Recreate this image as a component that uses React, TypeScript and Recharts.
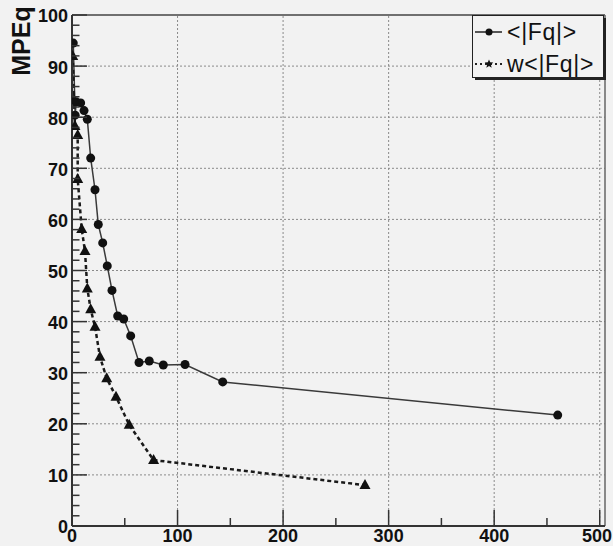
import React from 'react';
import { LineChart, Line, XAxis, YAxis, ReferenceLine, Legend } from 'recharts';

// ---- data ----
const fqX = [1.2, 3, 4, 8.2, 11.4, 14.5, 17.7, 21.8, 24.9, 29.1, 33.4, 37.9, 43.3, 49.0, 55.6, 63.5, 73.2, 86.5, 107.1, 142.8, 460.2];
const fqY = [94.5, 80.4, 83.0, 82.8, 81.3, 79.6, 72.0, 65.8, 59.0, 55.4, 50.9, 46.1, 41.1, 40.5, 37.2, 32.0, 32.3, 31.5, 31.6, 28.2, 21.7];
const wfqX = [0.7, 1.9, 2.8, 5.4, 5.4, 9.2, 12.3, 14.5, 17.7, 21.8, 26.5, 32.9, 41.7, 54.2, 77.3, 277.6];
const wfqY = [92.0, 83.4, 78.3, 76.5, 67.9, 58.1, 53.8, 46.5, 42.4, 39.0, 33.1, 28.9, 25.3, 19.8, 12.9, 8.0];
const seriesNames = ['<|Fq|>', 'w<|Fq|>'];
const yAxisTitle = 'MPEq';

const xTicks = [0, 50, 100, 150, 200, 250, 300, 350, 400, 450, 500];
const xLabels = [0, 100, 200, 300, 400, 500];
const yTicks = [0, 2, 4, 6, 8, 10, 12, 14, 16, 18, 20, 22, 24, 26, 28, 30, 32, 34, 36, 38, 40, 42, 44, 46, 48, 50,
  52, 54, 56, 58, 60, 62, 64, 66, 68, 70, 72, 74, 76, 78, 80, 82, 84, 86, 88, 90, 92, 94, 96, 98, 100];
const yLabels = [0, 10, 20, 30, 40, 50, 60, 70, 80, 90, 100];
const xGrid = [100, 200, 300, 400, 500];
const yGrid = [10, 20, 30, 40, 50, 60, 70, 80, 90];
const xMax = 505;
const yMax = 100;

const fqData = fqX.map((x, i) => ({ x, y: fqY[i] }));
const wfqData = wfqX.map((x, i) => ({ x, y: wfqY[i] }));

// ---- styles ----
const BG = '#f2f2f2';
const AXIS = '#333';
const FONT = '"Liberation Sans", Arial, Helvetica, sans-serif';
const CHART_W = 613;

const XTick = (props: any) => {
  const { x, y, payload } = props;
  const v = payload.value;
  const major = xLabels.includes(v);
  // keep the last label inside the picture
  const lx = Math.min(x, CHART_W - 16);
  return (
    <g>
      <line x1={x} x2={x} y1={y} y2={y - (major ? 16 : 8)} stroke={AXIS} strokeWidth={1.5} />
      {major && (
        <text x={lx} y={y + 15.5} textAnchor="middle" fontFamily={FONT} fontWeight="bold" fontSize={18} fill="#111">
          {v}
        </text>
      )}
    </g>
  );
};

const YTick = (props: any) => {
  const { x, y, payload } = props;
  const v = payload.value;
  const major = yLabels.includes(v);
  return (
    <g>
      <line x1={x} x2={x + (major ? 15 : 7.5)} y1={y} y2={y} stroke={AXIS} strokeWidth={1.5} />
      {major && (
        <text x={x - 4} y={y + 1} dy="0.36em" textAnchor="end" fontFamily={FONT} fontWeight="bold" fontSize={18} fill="#111">
          {v}
        </text>
      )}
    </g>
  );
};

const CircleDot = (p: any) => {
  if (p.cx == null || p.cy == null) return <g key={p.index} />;
  return <circle key={`c${p.index}`} cx={p.cx} cy={p.cy} r={4.5} fill="#111" stroke="none" />;
};

const TriDot = (p: any) => {
  if (p.cx == null || p.cy == null) return <g key={p.index} />;
  const { cx, cy } = p;
  return (
    <path
      key={`t${p.index}`}
      d={`M${cx},${cy - 6} L${cx + 5.5},${cy + 4} L${cx - 5.5},${cy + 4} Z`}
      fill="#111"
      stroke="none"
    />
  );
};

const starPath = (cx: number, cy: number, r: number) => {
  const pts: string[] = [];
  for (let i = 0; i < 10; i++) {
    const rr = i % 2 === 0 ? r : r * 0.45;
    const a = -Math.PI / 2 + (i * Math.PI) / 5;
    pts.push(`${cx + rr * Math.cos(a)},${cy + rr * Math.sin(a)}`);
  }
  return 'M' + pts.join(' L') + ' Z';
};

const LegendBox = () => (
  <svg width={138} height={68} style={{ display: 'block' }}>
    <rect x={3} y={3} width={131} height={62} fill="#222" />
    <rect x={0.5} y={0.5} width={131} height={62} fill={BG} stroke="#222" strokeWidth={1} />
    <line x1={3} x2={30} y1={17} y2={17} stroke="#222" strokeWidth={1.5} />
    <circle cx={17} cy={17} r={3.5} fill="#111" />
    <text x={35} y={25} fontFamily={FONT} fontSize={23} letterSpacing={0.7} fill="#111">
      {seriesNames[0]}
    </text>
    <line x1={3} x2={30} y1={49} y2={49} stroke="#222" strokeWidth={2} strokeDasharray="2 3" />
    <path d={starPath(17, 49, 4.5)} fill="#111" />
    <text x={35} y={57} fontFamily={FONT} fontSize={23} letterSpacing={0.7} fill="#111">
      {seriesNames[1]}
    </text>
  </svg>
);

export default function App() {
  return (
    <div style={{ position: 'absolute', left: 0, top: 0, width: 613, height: 546, background: BG }}>
      <LineChart width={CHART_W} height={546} margin={{ top: 15, right: 8, bottom: 0, left: 0 }} style={{ background: BG }}>
        <XAxis
          type="number"
          dataKey="x"
          domain={[0, xMax]}
          ticks={xTicks}
          interval={0}
          allowDataOverflow
          height={20}
          tickSize={0}
          tickMargin={0}
          tickLine={false}
          tick={<XTick />}
          axisLine={{ stroke: AXIS, strokeWidth: 2 }}
        />
        <YAxis
          type="number"
          dataKey="y"
          domain={[0, yMax]}
          ticks={yTicks}
          interval={0}
          allowDataOverflow
          width={72}
          tickSize={0}
          tickMargin={0}
          tickLine={false}
          tick={<YTick />}
          axisLine={{ stroke: AXIS, strokeWidth: 2 }}
          label={{
            content: () => (
              <text
                x={30}
                y={41}
                transform="rotate(-90, 30, 41)"
                textAnchor="middle"
                fontFamily={FONT}
                fontWeight="bold"
                fontSize={25}
                fill="#111"
              >
                {yAxisTitle}
              </text>
            ),
          }}
        />
        {xGrid.map((v) => (
          <ReferenceLine key={`gx${v}`} x={v} stroke="#8a8a8a" strokeWidth={1} strokeDasharray="2 2" />
        ))}
        {yGrid.map((v) => (
          <ReferenceLine key={`gy${v}`} y={v} stroke="#8a8a8a" strokeWidth={1} strokeDasharray="2 2" />
        ))}
        <ReferenceLine y={yMax} stroke="#444" strokeWidth={1.5} />
        <ReferenceLine x={xMax} stroke="#666" strokeWidth={1.5} />
        <Line
          data={fqData}
          dataKey="y"
          name={seriesNames[0]}
          type="linear"
          stroke="#3a3a3a"
          strokeWidth={1.5}
          dot={CircleDot}
          activeDot={false}
          isAnimationActive={false}
        />
        <Line
          data={wfqData}
          dataKey="y"
          name={seriesNames[1]}
          type="linear"
          stroke="#1a1a1a"
          strokeWidth={2.5}
          strokeDasharray="4 3"
          dot={TriDot}
          activeDot={false}
          isAnimationActive={false}
        />
        <Legend
          layout="vertical"
          align="center"
          verticalAlign="middle"
          wrapperStyle={{ left: 472, top: 15, width: 138, height: 68, right: 'auto', bottom: 'auto' }}
          content={() => <LegendBox />}
        />
      </LineChart>
    </div>
  );
}
